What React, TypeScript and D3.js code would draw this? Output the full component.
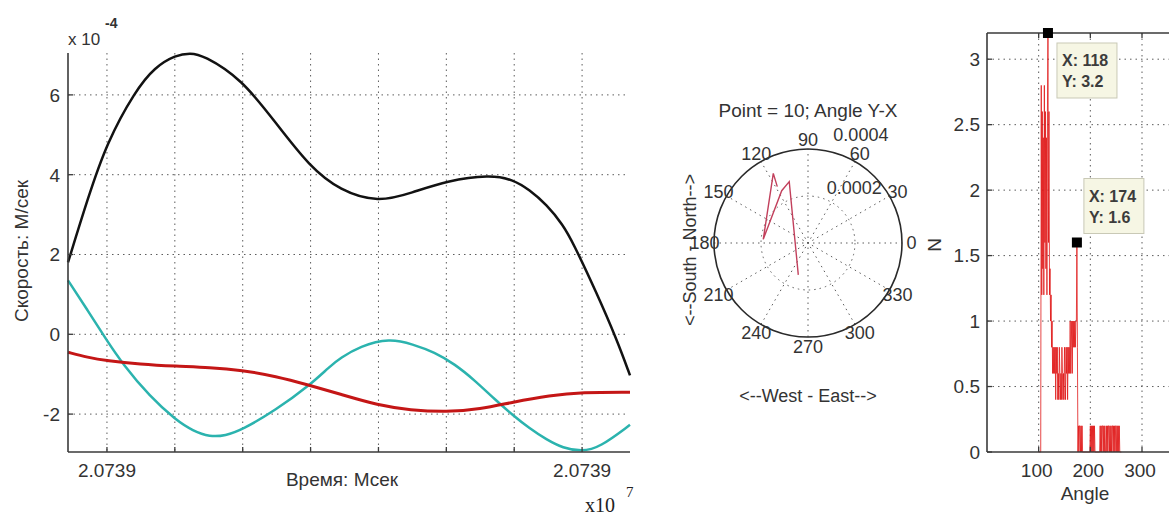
import React from 'react';
import * as d3 from 'd3';

const W = 1169;
const H = 515;
const FONT = '"Liberation Sans", Arial, Helvetica, sans-serif';

// ---- Velocity vs. time (time in tick divisions, velocity in 1e-4 m/s) ----
const blackSeries: [number, number][] = [
  [0, 1.8], [0.29, 3.4], [0.57, 4.8], [0.99, 6.1], [1.28, 6.7], [1.59, 7.0],
  [1.8, 7.05], [1.99, 7.0], [2.56, 6.4], [3.06, 5.3], [3.56, 4.2], [4.01, 3.6],
  [4.57, 3.3], [5.07, 3.55], [5.58, 3.85], [6.22, 4.0], [6.55, 3.88], [6.8, 3.62],
  [7.05, 3.25], [7.29, 2.75], [7.44, 2.3], [7.79, 1.03], [8.09, -0.15], [8.28, -1.03],
];
const cyanSeries: [number, number][] = [
  [0, 1.35], [0.29, 0.6], [0.57, -0.15], [0.8, -0.73], [1.21, -1.57], [1.59, -2.15],
  [1.84, -2.42], [2.09, -2.57], [2.32, -2.54], [2.56, -2.4], [3.06, -1.9], [3.56, -1.28],
  [3.86, -0.8], [4.01, -0.6], [4.3, -0.3], [4.74, -0.1], [5.08, -0.25], [5.4, -0.45],
  [5.7, -0.75], [5.99, -1.15], [6.3, -1.65], [6.55, -2.02], [6.8, -2.36], [7.05, -2.64],
  [7.29, -2.85], [7.57, -2.94], [7.83, -2.84], [8.28, -2.27],
];
const redSeries: [number, number][] = [
  [0, -0.45], [0.29, -0.58], [0.57, -0.66], [1.06, -0.75], [1.59, -0.8], [2.09, -0.83],
  [2.56, -0.9], [3.06, -1.05], [3.56, -1.28], [4.01, -1.5], [4.57, -1.78], [5.04, -1.9],
  [5.58, -1.95], [6.07, -1.88], [6.55, -1.7], [7.1, -1.53], [7.57, -1.45], [8.28, -1.45],
];
const timeDomain = [0, 8.28];
const timeTicks = [0.574, 1.574, 2.574, 3.574, 4.574, 5.574, 6.574, 7.574];
const timeTickLabels = ['2.0739', '', '', '', '', '', '', '2.0739'];
const velocityDomain = [-2.95, 7.05];
const velocityTicks = [-2, 0, 2, 4, 6];

// ---- Polar trace (angle in degrees, radius) ----
const polarAngles = [253.1, 107.0, 116.7, 175.3, 116.5, 118.6];
const polarRadii = [0.000142, 0.000273, 0.000249, 0.000191, 0.000331, 0.000273];
const polarRMax = 0.0004;
const polarRings = [0.0002, 0.0004];
const polarRingLabels = ['0.0002', '0.0004'];
const polarSpokes = [0, 30, 60, 90, 120, 150];
const polarAngleLabels = [0, 30, 60, 90, 120, 150, 180, 210, 240, 270, 300, 330];

// ---- Angle histogram (one value per degree starting at histStart) ----
const histStart = 100;
const histValues = [
  0, 0, 0, 0, 0, 2.8, 1.2, 2.6, 1.4, 2.4,
  1.2, 2.8, 1.6, 2.6, 1.4, 2.4, 1.2, 2.6, 3.2, 1.6,
  2.6, 1.2, 1.4, 1.0, 1.2, 0.8, 1.0, 0.6, 0.8, 0.6,
  0.8, 0.6, 0.8, 0.4, 0.8, 0.6, 0.8, 0.4, 0.6, 0.4,
  0.8, 0.6, 0.4, 0.6, 0.4, 0.8, 0.6, 0.4, 0.6, 0.4,
  0.8, 0.6, 0.4, 0.8, 0.6, 0.8, 0.4, 0.8, 0.6, 0.8,
  0.6, 1.0, 0.6, 0.8, 1.0, 0.6, 1.0, 0.8, 1.0, 0.8,
  1.0, 0.8, 1.0, 1.0, 1.6, 0.8, 0, 0.2, 0, 0.2,
  0.2, 0, 0.2, 0, 0.2, 0, 0, 0, 0, 0,
  0, 0, 0, 0, 0, 0, 0, 0, 0, 0,
  0.2, 0, 0.2, 0, 0.2, 0, 0.2, 0, 0.2, 0,
  0, 0, 0, 0, 0, 0, 0, 0, 0, 0.2,
  0, 0.2, 0, 0.2, 0.2, 0, 0.2, 0, 0.2, 0,
  0, 0.2, 0, 0.2, 0, 0.2, 0.2, 0, 0.2, 0,
  0.2, 0, 0.2, 0.2, 0, 0.2, 0, 0.2, 0, 0.2,
  0.2, 0, 0.2, 0, 0.2, 0, 0.2, 0, 0, 0,
  0,
];
const histDomain = [0, 360];
const histXTicks = [100, 200, 300];
const histYTicks = [0, 0.5, 1, 1.5, 2, 2.5, 3];
const histYDomain = [0, 3.2];
const tipAngles = [118, 174];
const tipValues = [3.2, 1.6];

const GRID = { stroke: '#5c5c5c', strokeWidth: 1, strokeDasharray: '1.5,4' };
const AXIS = '#3a3a3a';

function VelocityPanel() {
  const x = d3.scaleLinear().domain(timeDomain).range([68, 630]);
  const y = d3.scaleLinear().domain(velocityDomain).range([452, 53]);
  const line = d3
    .line<[number, number]>()
    .x((d) => x(d[0]))
    .y((d) => y(d[1]))
    .curve(d3.curveBasis);
  const top = y(velocityDomain[1]);
  const bottom = y(velocityDomain[0]);
  const serif = '"Liberation Serif", "Times New Roman", serif';
  return (
    <g>
      {timeTicks.map((t, i) => (
        <line key={'vg' + i} x1={x(t)} x2={x(t)} y1={top} y2={bottom} {...GRID} />
      ))}
      {velocityTicks.map((v, i) => (
        <line key={'hg' + i} x1={x(0)} x2={627} y1={y(v)} y2={y(v)} {...GRID} />
      ))}
      <path d={line(blackSeries) || ''} fill="none" stroke="#121212" strokeWidth={2.5} />
      <path d={line(cyanSeries) || ''} fill="none" stroke="#2bb3ae" strokeWidth={2.5} />
      <path d={line(redSeries) || ''} fill="none" stroke="#c41616" strokeWidth={3} />
      <line x1={x(0)} x2={x(0)} y1={top} y2={bottom} stroke={AXIS} strokeWidth={1.6} />
      <line x1={x(0)} x2={x(timeDomain[1])} y1={bottom} y2={bottom} stroke={AXIS} strokeWidth={1.6} />
      {timeTicks.map((t, i) => (
        <line key={'xt' + i} x1={x(t)} x2={x(t)} y1={bottom} y2={bottom - 5} stroke={AXIS} strokeWidth={1.3} />
      ))}
      {velocityTicks.map((v, i) => (
        <line key={'yt' + i} x1={x(0)} x2={x(0) + 5} y1={y(v)} y2={y(v)} stroke={AXIS} strokeWidth={1.3} />
      ))}
      {velocityTicks.map((v, i) => (
        <text key={'yl' + i} x={60} y={y(v)} dy="0.36em" textAnchor="end" fontSize={19} fill="#333">
          {v}
        </text>
      ))}
      {timeTicks.map((t, i) =>
        timeTickLabels[i] ? (
          <text key={'xl' + i} x={x(t)} y={477} textAnchor="middle" fontSize={19} fill="#333">
            {timeTickLabels[i]}
          </text>
        ) : null
      )}
      <text x={68} y={45} fontSize={17} fill="#333">x 10</text>
      <text x={105} y={28} fontSize={14} fontWeight="bold" fill="#333">-4</text>
      <text x={342} y={486} textAnchor="middle" fontSize={19} fill="#333">Время: Мсек</text>
      <text x={585} y={512} fontSize={20} fill="#222" fontFamily={serif}>x10</text>
      <text x={626} y={497} fontSize={15} fill="#222" fontFamily={serif}>7</text>
      <text transform="translate(28,251) rotate(-90)" textAnchor="middle" fontSize={19} fill="#333">
        Скорость: М/сек
      </text>
    </g>
  );
}

function PolarPanel() {
  const cx = 808;
  const cy = 243;
  const r = d3.scaleLinear().domain([0, polarRMax]).range([0, 94]);
  const R = r(polarRMax);
  const rad = (a: number) => (a * Math.PI) / 180;
  const pts: [number, number][] = polarAngles.map((a, i) => [
    cx + r(polarRadii[i]) * Math.cos(rad(a)),
    cy - r(polarRadii[i]) * Math.sin(rad(a)),
  ]);
  const line = d3.line<[number, number]>();
  const ringLabelDy = [0, -7];
  return (
    <g>
      {polarSpokes.map((a) => (
        <line
          key={'sp' + a}
          x1={cx - R * Math.cos(rad(a))}
          y1={cy + R * Math.sin(rad(a))}
          x2={cx + R * Math.cos(rad(a))}
          y2={cy - R * Math.sin(rad(a))}
          {...GRID}
        />
      ))}
      {polarRings.slice(0, -1).map((v) => (
        <circle key={'rg' + v} cx={cx} cy={cy} r={r(v)} fill="none" {...GRID} />
      ))}
      <circle cx={cx} cy={cy} r={R} fill="none" stroke="#2a2a2a" strokeWidth={1.6} />
      {polarRings.map((v, i) => {
        const rr = r(v) + 2;
        return (
          <text
            key={'rl' + v}
            x={cx + rr * Math.cos(rad(82)) + 12}
            y={cy - rr * Math.sin(rad(82)) + ringLabelDy[i]}
            fontSize={18}
            fill="#333"
          >
            {polarRingLabels[i]}
          </text>
        );
      })}
      {polarAngleLabels.map((a) => (
        <text
          key={'al' + a}
          x={cx + 1.1 * R * Math.cos(rad(a))}
          y={cy - 1.1 * R * Math.sin(rad(a))}
          dy="0.36em"
          textAnchor="middle"
          fontSize={18}
          fill="#333"
        >
          {a}
        </text>
      ))}
      <path d={line(pts) || ''} fill="none" stroke="#c2405c" strokeWidth={1.4} />
      <text x={cx} y={117} textAnchor="middle" fontSize={19} fill="#333">
        Point = 10; Angle Y-X
      </text>
      <text x={cx} y={402} textAnchor="middle" fontSize={18} fill="#333">
        {'<--West - East-->'}
      </text>
      <text transform="translate(696,250) rotate(-90)" textAnchor="middle" fontSize={18} fill="#333">
        {'<--South - North-->'}
      </text>
    </g>
  );
}

function HistogramPanel() {
  const x = d3.scaleLinear().domain(histDomain).range([987, 1173]);
  const y = d3.scaleLinear().domain(histYDomain).range([452, 33]);
  const pts: [number, number][] = histValues.map((v, i) => [x(histStart + i), y(v)]);
  const line = d3.line<[number, number]>();
  const left = x(histDomain[0]);
  const right = x(histDomain[1]);
  const top = y(histYDomain[1]);
  const bottom = y(0);
  const tipBoxes = [
    { dx: 9, dy: 10 },
    { dx: 7, dy: -64 },
  ];
  return (
    <g>
      {histXTicks.map((t) => (
        <line key={'hx' + t} x1={x(t)} x2={x(t)} y1={top} y2={bottom} {...GRID} />
      ))}
      {histYTicks.slice(1).map((t) => (
        <line key={'hy' + t} x1={left} x2={right} y1={y(t)} y2={y(t)} {...GRID} />
      ))}
      <path d={line(pts) || ''} fill="none" stroke="#e01818" strokeWidth={0.8} />
      <line x1={left} x2={left} y1={top} y2={bottom} stroke={AXIS} strokeWidth={1.6} />
      <line x1={left} x2={right} y1={top} y2={top} stroke={AXIS} strokeWidth={1.6} />
      <line x1={left} x2={right} y1={bottom} y2={bottom} stroke={AXIS} strokeWidth={1.6} />
      {histXTicks.map((t) => (
        <g key={'xt' + t}>
          <line x1={x(t)} x2={x(t)} y1={bottom} y2={bottom - 5} stroke={AXIS} strokeWidth={1.3} />
          <line x1={x(t)} x2={x(t)} y1={top} y2={top + 5} stroke={AXIS} strokeWidth={1.3} />
          <text x={x(t) - 2} y={477} textAnchor="middle" fontSize={19} fill="#333">
            {t}
          </text>
        </g>
      ))}
      {histYTicks.map((t) => (
        <g key={'yt' + t}>
          <line x1={left} x2={left + 5} y1={y(t)} y2={y(t)} stroke={AXIS} strokeWidth={1.3} />
          <text x={980} y={y(t)} dy="0.36em" textAnchor="end" fontSize={19} fill="#333">
            {t}
          </text>
        </g>
      ))}
      <text x={1085} y={500} textAnchor="middle" fontSize={19} fill="#333">Angle</text>
      <text transform="translate(941,245) rotate(-90)" textAnchor="middle" fontSize={19} fill="#333">N</text>
      {tipAngles.map((a, i) => {
        const mx = x(a);
        const my = y(tipValues[i]);
        const bx = mx + tipBoxes[i].dx;
        const by = my + tipBoxes[i].dy;
        return (
          <g key={'tip' + a}>
            <rect x={bx} y={by} width={60} height={55} fill="#f6f6e4" stroke="#c9c9b6" strokeWidth={1} />
            <text x={bx + 5} y={by + 23} fontSize={16} fontWeight="bold" fill="#3c3c3c">
              {'X: ' + a}
            </text>
            <text x={bx + 5} y={by + 44} fontSize={16} fontWeight="bold" fill="#3c3c3c">
              {'Y: ' + tipValues[i]}
            </text>
            <rect x={mx - 5} y={my - 5} width={10} height={10} fill="#000" />
          </g>
        );
      })}
    </g>
  );
}

export default function App() {
  return (
    <svg
      width={W}
      height={H}
      viewBox={`0 0 ${W} ${H}`}
      style={{ position: 'absolute', left: 0, top: 0, background: '#fff' }}
      fontFamily={FONT}
    >
      <rect x={0} y={0} width={W} height={H} fill="#fff" />
      <VelocityPanel />
      <PolarPanel />
      <HistogramPanel />
    </svg>
  );
}
